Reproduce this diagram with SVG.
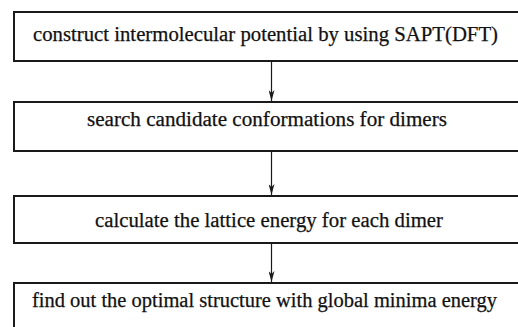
<svg xmlns="http://www.w3.org/2000/svg" width="518" height="327" viewBox="0 0 518 327">
<style>
.box{fill:#fff;stroke:#1a1a1a;stroke-width:2}
.lbl{font-family:"Liberation Serif","Times New Roman",serif;font-size:20px;fill:#111;stroke:#111;stroke-width:0.25;text-anchor:middle}
.conn{stroke:#1a1a1a;stroke-width:1.2;fill:none}
</style>
<defs>
<marker id="ah" markerWidth="12" markerHeight="6" refX="11" refY="3" orient="auto" markerUnits="userSpaceOnUse">
<path d="M0,0 L11,3 L0,6 L3,3 Z" fill="#1a1a1a"/>
</marker>
</defs>
<rect width="518" height="327" fill="#fff"/>
<g id="connectors">
<line class="conn" x1="271.5" y1="61" x2="271.5" y2="101" marker-end="url(#ah)"/>
<line class="conn" x1="271.5" y1="151" x2="271.5" y2="195" marker-end="url(#ah)"/>
<line class="conn" x1="271.5" y1="243" x2="271.5" y2="282" marker-end="url(#ah)"/>
</g>
<g id="n1">
<rect class="box" x="14" y="12" width="520" height="49"/>
<text class="lbl" x="265.5" y="40.5" textLength="465" lengthAdjust="spacingAndGlyphs">construct intermolecular potential by using SAPT(DFT)</text>
</g>
<g id="n2">
<rect class="box" x="14" y="102" width="520" height="49"/>
<text class="lbl" x="267" y="126" textLength="360" lengthAdjust="spacingAndGlyphs">search candidate conformations for dimers</text>
</g>
<g id="n3">
<rect class="box" x="14" y="196" width="520" height="47"/>
<text class="lbl" x="269" y="226.5" textLength="348" lengthAdjust="spacingAndGlyphs">calculate the lattice energy for each dimer</text>
</g>
<g id="n4">
<rect class="box" x="14" y="283" width="520" height="60"/>
<text class="lbl" x="264.5" y="306.5" textLength="465" lengthAdjust="spacingAndGlyphs">find out the optimal structure with global minima energy</text>
</g>
</svg>
